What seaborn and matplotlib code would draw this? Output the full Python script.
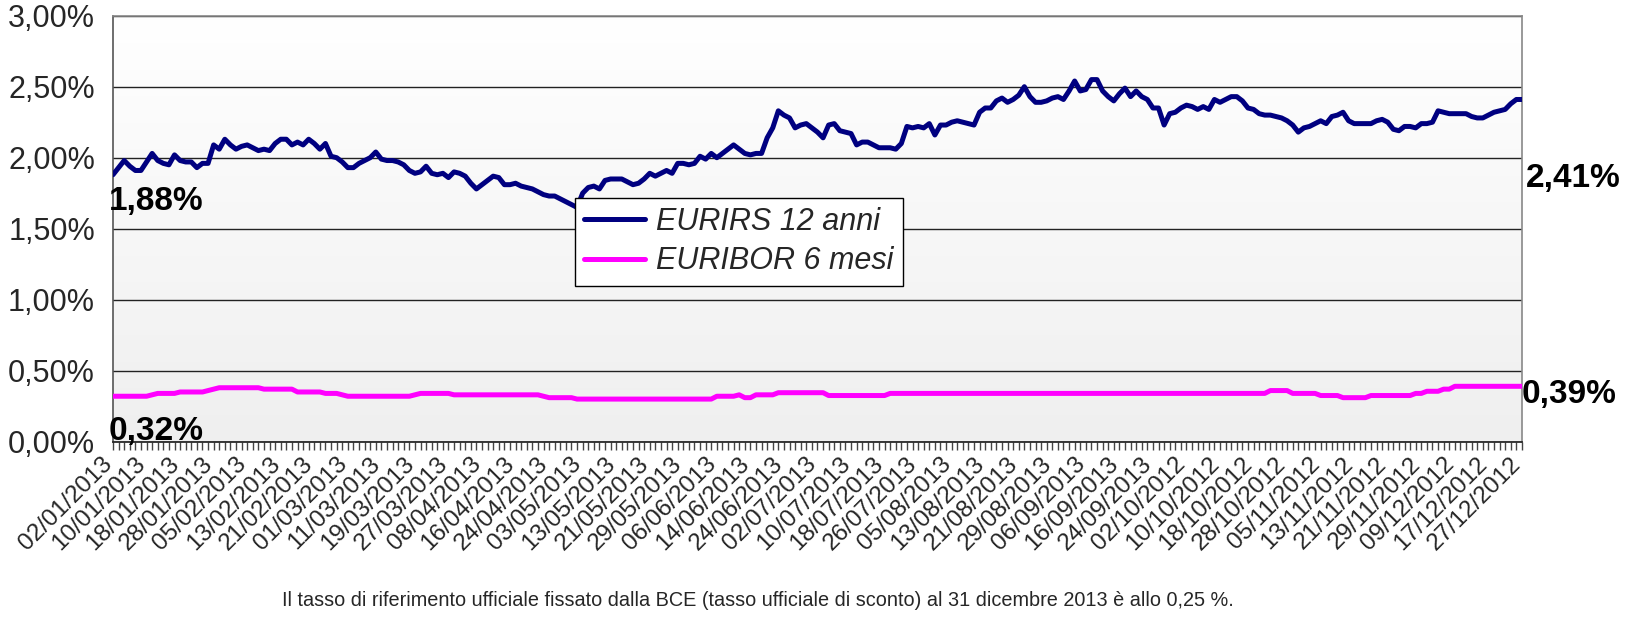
import numpy as np
import pandas as pd
import seaborn as sns
import matplotlib.pyplot as plt
from matplotlib.ticker import FuncFormatter, MultipleLocator
from matplotlib.transforms import ScaledTranslation

# EURIRS 12 anni, daily values (%)
eurirs = [
    1.88, 1.93, 1.98, 1.94, 1.91, 1.91, 1.97, 2.03, 1.98, 1.96,
    1.95, 2.02, 1.98, 1.97, 1.97, 1.93, 1.96, 1.96, 2.09, 2.06,
    2.13, 2.09, 2.06, 2.08, 2.09, 2.07, 2.05, 2.06, 2.05, 2.10,
    2.13, 2.13, 2.09, 2.11, 2.09, 2.13, 2.10, 2.06, 2.10, 2.01,
    2.00, 1.97, 1.93, 1.93, 1.96, 1.98, 2.00, 2.04, 1.99, 1.98,
    1.98, 1.97, 1.95, 1.91, 1.89, 1.90, 1.94, 1.89, 1.88, 1.89,
    1.86, 1.90, 1.89, 1.87, 1.82, 1.78, 1.81, 1.84, 1.87, 1.86,
    1.81, 1.81, 1.82, 1.80, 1.79, 1.78, 1.76, 1.74, 1.73, 1.73,
    1.71, 1.69, 1.67, 1.65, 1.75, 1.79, 1.80, 1.78, 1.84, 1.85,
    1.85, 1.85, 1.83, 1.81, 1.82, 1.85, 1.89, 1.87, 1.89, 1.91,
    1.89, 1.96, 1.96, 1.95, 1.96, 2.01, 1.99, 2.03, 2.00, 2.03,
    2.06, 2.09, 2.06, 2.03, 2.02, 2.03, 2.03, 2.14, 2.21, 2.33,
    2.30, 2.28, 2.21, 2.23, 2.24, 2.21, 2.18, 2.14, 2.23, 2.24,
    2.19, 2.18, 2.17, 2.09, 2.11, 2.11, 2.09, 2.07, 2.07, 2.07,
    2.06, 2.10, 2.22, 2.21, 2.22, 2.21, 2.24, 2.16, 2.23, 2.23,
    2.25, 2.26, 2.25, 2.24, 2.23, 2.32, 2.35, 2.35, 2.40, 2.42,
    2.39, 2.41, 2.44, 2.50, 2.43, 2.39, 2.39, 2.40, 2.42, 2.43,
    2.41, 2.47, 2.54, 2.47, 2.48, 2.55, 2.55, 2.47, 2.43, 2.40,
    2.45, 2.49, 2.43, 2.47, 2.43, 2.41, 2.35, 2.35, 2.23, 2.31,
    2.32, 2.35, 2.37, 2.36, 2.34, 2.36, 2.34, 2.41, 2.39, 2.41,
    2.43, 2.43, 2.40, 2.35, 2.34, 2.31, 2.30, 2.30, 2.29, 2.28,
    2.26, 2.23, 2.18, 2.21, 2.22, 2.24, 2.26, 2.24, 2.29, 2.30,
    2.32, 2.26, 2.24, 2.24, 2.24, 2.24, 2.26, 2.27, 2.25, 2.20,
    2.19, 2.22, 2.22, 2.21, 2.24, 2.24, 2.25, 2.33, 2.32, 2.31,
    2.31, 2.31, 2.31, 2.29, 2.28, 2.28, 2.30, 2.32, 2.33, 2.34,
    2.38, 2.41, 2.41,
]

# EURIBOR 6 mesi, daily values (%)
euribor = [
    0.32, 0.32, 0.32, 0.32, 0.32, 0.32, 0.32, 0.33, 0.34, 0.34,
    0.34, 0.34, 0.35, 0.35, 0.35, 0.35, 0.35, 0.36, 0.37, 0.38,
    0.38, 0.38, 0.38, 0.38, 0.38, 0.38, 0.38, 0.37, 0.37, 0.37,
    0.37, 0.37, 0.37, 0.35, 0.35, 0.35, 0.35, 0.35, 0.34, 0.34,
    0.34, 0.33, 0.32, 0.32, 0.32, 0.32, 0.32, 0.32, 0.32, 0.32,
    0.32, 0.32, 0.32, 0.32, 0.33, 0.34, 0.34, 0.34, 0.34, 0.34,
    0.34, 0.33, 0.33, 0.33, 0.33, 0.33, 0.33, 0.33, 0.33, 0.33,
    0.33, 0.33, 0.33, 0.33, 0.33, 0.33, 0.33, 0.32, 0.31, 0.31,
    0.31, 0.31, 0.31, 0.30, 0.30, 0.30, 0.30, 0.30, 0.30, 0.30,
    0.30, 0.30, 0.30, 0.30, 0.30, 0.30, 0.30, 0.30, 0.30, 0.30,
    0.30, 0.30, 0.30, 0.30, 0.30, 0.30, 0.30, 0.30, 0.32, 0.32,
    0.32, 0.32, 0.33, 0.31, 0.31, 0.33, 0.33, 0.33, 0.33, 0.345,
    0.345, 0.345, 0.345, 0.345, 0.345, 0.345, 0.345, 0.345, 0.325, 0.325,
    0.325, 0.325, 0.325, 0.325, 0.325, 0.325, 0.325, 0.325, 0.325, 0.34,
    0.34, 0.34, 0.34, 0.34, 0.34, 0.34, 0.34, 0.34, 0.34, 0.34,
    0.34, 0.34, 0.34, 0.34, 0.34, 0.34, 0.34, 0.34, 0.34, 0.34,
    0.34, 0.34, 0.34, 0.34, 0.34, 0.34, 0.34, 0.34, 0.34, 0.34,
    0.34, 0.34, 0.34, 0.34, 0.34, 0.34, 0.34, 0.34, 0.34, 0.34,
    0.34, 0.34, 0.34, 0.34, 0.34, 0.34, 0.34, 0.34, 0.34, 0.34,
    0.34, 0.34, 0.34, 0.34, 0.34, 0.34, 0.34, 0.34, 0.34, 0.34,
    0.34, 0.34, 0.34, 0.34, 0.34, 0.34, 0.34, 0.36, 0.36, 0.36,
    0.36, 0.34, 0.34, 0.34, 0.34, 0.34, 0.325, 0.325, 0.325, 0.325,
    0.31, 0.31, 0.31, 0.31, 0.31, 0.325, 0.325, 0.325, 0.325, 0.325,
    0.325, 0.325, 0.325, 0.34, 0.34, 0.355, 0.355, 0.355, 0.37, 0.37,
    0.39, 0.39, 0.39, 0.39, 0.39, 0.39, 0.39, 0.39, 0.39, 0.39,
    0.39, 0.39, 0.39,
]

date_labels = [
    "02/01/2013", "10/01/2013", "18/01/2013", "28/01/2013", "05/02/2013",
    "13/02/2013", "21/02/2013", "01/03/2013", "11/03/2013", "19/03/2013",
    "27/03/2013", "08/04/2013", "16/04/2013", "24/04/2013", "03/05/2013",
    "13/05/2013", "21/05/2013", "29/05/2013", "06/06/2013", "14/06/2013",
    "24/06/2013", "02/07/2013", "10/07/2013", "18/07/2013", "26/07/2013",
    "05/08/2013", "13/08/2013", "21/08/2013", "29/08/2013", "06/09/2013",
    "16/09/2013", "24/09/2013", "02/10/2012", "10/10/2012", "18/10/2012",
    "28/10/2012", "05/11/2012", "13/11/2012", "21/11/2012", "29/11/2012",
    "09/12/2012", "17/12/2012", "27/12/2012",
]

note = ("Il tasso di riferimento ufficiale fissato dalla BCE (tasso ufficiale di sconto) "
        "al 31 dicembre 2013 è allo 0,25 %.")

n = len(eurirs)
df = pd.DataFrame({
    "giorno": list(range(n)) * 2,
    "tasso": eurirs + euribor,
    "serie": ["EURIRS 12 anni"] * n + ["EURIBOR 6 mesi"] * n,
})

sns.set_theme(style="white")
plt.rcParams["font.family"] = ["Liberation Sans", "DejaVu Sans"]

fig = plt.figure(figsize=(16.26, 6.18), dpi=100)
ax = fig.add_axes([0.0695, 0.2853, 0.8665, 0.6893])

# soft vertical gradient background like the Excel plot area
grad = np.linspace(0, 1, 256).reshape(-1, 1)
ax.imshow(grad, extent=[0, 1, 0, 1], transform=ax.transAxes, aspect="auto",
          cmap=plt.matplotlib.colors.LinearSegmentedColormap.from_list(
              "bg", ["#efefef", "#ffffff"]), origin="lower", zorder=0)

sns.lineplot(data=df, x="giorno", y="tasso", hue="serie",
             palette={"EURIRS 12 anni": "#000080", "EURIBOR 6 mesi": "#ff00ff"},
             linewidth=3.6, ax=ax, zorder=3)

ax.set_xlim(0, n - 1)
ax.set_ylim(0, 3.0)
ax.yaxis.set_major_locator(MultipleLocator(0.5))
ax.yaxis.set_major_formatter(FuncFormatter(lambda v, p: f"{v:.2f}%".replace(".", ",")))
ax.grid(axis="y", color="#222222", linewidth=1.0, zorder=1)
ax.set_axisbelow(True)

ax.set_xticks(list(range(0, n, 6)))
ax.set_xticklabels(date_labels, rotation=45, ha="right", rotation_mode="anchor",
                   fontsize=17.5)
ax.set_xticks(list(range(n)), minor=True)
ax.tick_params(axis="x", which="both", direction="out", length=6, width=1,
               color="#444444", bottom=True, pad=2)
ax.tick_params(axis="y", labelsize=22, left=False, pad=7)
# nudge the date labels a bit to the left, as in the original
shift = ScaledTranslation(-12 / 100, 0, fig.dpi_scale_trans)
for lab in ax.get_xticklabels():
    lab.set_transform(lab.get_transform() + shift)
ax.set_xlabel("")
ax.set_ylabel("")

for side in ["left", "right", "top"]:
    ax.spines[side].set_color("#888888")
    ax.spines[side].set_linewidth(1.2)
ax.spines["left"].set_color("#555555")
ax.spines["bottom"].set_color("#222222")

# value annotations at the ends of the series
ax.annotate("1,88%", xy=(0, eurirs[0]), xytext=(-3, -8), textcoords="offset points",
            fontsize=24, fontweight="bold", va="top", ha="left", color="black")
ax.annotate("0,32%", xy=(0, euribor[0]), xytext=(-3, -14), textcoords="offset points",
            fontsize=24, fontweight="bold", va="top", ha="left", color="black")
ax.annotate("2,41%", xy=(n - 1, eurirs[-1]), xytext=(3, -46), textcoords="offset points",
            fontsize=24, fontweight="bold", va="top", ha="left", color="black",
            annotation_clip=False)
ax.annotate("0,39%", xy=(n - 1, euribor[-1]), xytext=(0, -6), textcoords="offset points",
            fontsize=24, fontweight="bold", va="center", ha="left", color="black",
            annotation_clip=False)

leg = ax.legend(loc="upper left", bbox_to_anchor=(0.328, 0.572), borderaxespad=0,
                prop={"style": "italic", "size": 22}, frameon=True, fancybox=False,
                handlelength=2.0, handletextpad=0.35, borderpad=0.3, labelspacing=0.3,
                edgecolor="black")
leg.get_frame().set_linewidth(1.0)
leg.get_frame().set_facecolor("white")
leg.get_frame().set_alpha(1)

fig.text(0.466, 0.029, note, ha="center", va="center", fontsize=14.3)

fig.savefig("out.png", dpi=100)
